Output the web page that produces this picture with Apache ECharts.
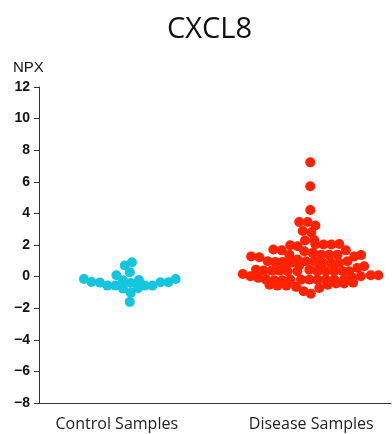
<!DOCTYPE html>
<html>
<head>
<meta charset="utf-8">
<script src="https://cdn.jsdelivr.net/npm/echarts@6/dist/echarts.min.js"></script>
<style>
  html, body { margin: 0; padding: 0; background: #fff; }
  #chart { width: 392px; height: 434px; }
</style>
</head>
<body>
<div id="chart"></div>
<script>
// Groups on the x axis (placed at 1 and 2)
const groups = ["Control Samples", "Disease Samples"];

// Control samples: horizontal swarm offset and NPX value
const controlDx = [-0.169, -0.130, -0.087, -0.048, -0.007, 0.032, 0.072, 0.067, 0.109, 0.144, 0.183,
  0.224, 0.265, 0.303, -0.002, 0.032, 0.072, 0.114, 0.041, 0.078, 0.067];
const controlY = [-0.15, -0.34, -0.38, -0.57, -0.57, -0.76, -1.03, -1.60, -0.74, -0.57, -0.57,
  -0.36, -0.36, -0.15, 0.08, -0.23, -0.40, -0.21, 0.70, 0.91, 0.27];

// Disease samples: horizontal swarm offset and NPX value
const diseaseDx = [
  -0.005, -0.005, -0.005,
  -0.062, -0.019, 0.021, -0.044, 0.000, -0.032, 0.015,
  -0.108, -0.070, 0.021, 0.063, 0.103, 0.144,
  -0.195, -0.152, -0.036, 0.007, 0.178, -0.113,
  -0.309, -0.267, 0.050, 0.092, 0.135, 0.221, 0.256,
  -0.224, -0.185, -0.147, -0.104, -0.070, -0.027, 0.015, 0.058, 0.101, 0.144, 0.186,
  -0.062, 0.041, -0.138, 0.118,
  -0.284, -0.245, -0.204, -0.164, -0.122, -0.072, -0.010, 0.032, 0.075, 0.118, 0.161, 0.195, 0.237, 0.272,
  -0.352, -0.313, -0.272, -0.232, -0.190, -0.150, -0.108, -0.053, -0.010, 0.032, 0.075, 0.118, 0.169,
  0.212, 0.255, 0.306, 0.345,
  -0.215, -0.174, -0.128, -0.078, -0.039, -0.002, 0.041, 0.084, 0.127, 0.169, 0.215
];
const diseaseY = [
  7.23, 5.72, 4.21,
  3.46, 3.46, 3.23, 2.89, 2.80, 2.28, 2.31,
  1.98, 1.92, 2.03, 2.03, 2.03, 2.06,
  1.71, 1.66, 1.60, 1.50, 1.66, 1.39,
  1.28, 1.22, 1.39, 1.39, 1.39, 1.28, 1.36,
  0.97, 0.93, 0.93, 0.87, 1.08, 0.97, 0.97, 0.87, 0.87, 0.87, 0.97,
  0.70, 0.63, 0.63, 0.70,
  0.44, 0.38, 0.38, 0.38, 0.34, 0.34, 0.44, 0.34, 0.34, 0.34, 0.34, 0.34, 0.55, 0.65,
  0.17, 0.02, -0.08, -0.19, -0.23, -0.23, -0.19, -0.19, -0.19, -0.19, -0.19, -0.19, -0.19,
  -0.08, 0.02, 0.08, 0.08,
  -0.51, -0.57, -0.57, -0.65, -0.93, -1.08, -0.72, -0.51, -0.44, -0.44, -0.38
];

const yTicks = { min: -8, max: 12, step: 2 };

const chart = echarts.init(document.getElementById("chart"));

const toPoints = (pos, dx, ys) => dx.map((d, i) => [pos + d, ys[i]]);

const option = {
  animation: false,
  title: [
    {
      text: "CXCL8",
      left: 162,
      top: 10,
      textStyle: { fontFamily: "Open Sans", fontSize: 29, fontWeight: "normal", color: "#111" }
    },
    {
      text: "NPX",
      left: 8,
      top: 55,
      textStyle: { fontFamily: "Liberation Sans", fontSize: 15, fontWeight: "normal", color: "#111" }
    }
  ],
  grid: { left: 39, right: 1, top: 87, bottom: 31 },
  xAxis: {
    type: "value",
    min: 0.6,
    max: 2.41,
    axisLine: { onZero: false, lineStyle: { color: "#333", width: 1 } },
    axisTick: { show: false },
    splitLine: { show: false },
    axisLabel: {
      customValues: [1, 2],
      formatter: (v) => groups[Math.round(v) - 1],
      fontFamily: "Open Sans",
      fontSize: 16,
      color: "#222",
      margin: 13
    }
  },
  yAxis: {
    type: "value",
    min: yTicks.min,
    max: yTicks.max,
    interval: yTicks.step,
    axisLine: { show: true, onZero: false, lineStyle: { color: "#333", width: 1 } },
    axisTick: { show: true, length: 5, lineStyle: { color: "#333" } },
    splitLine: { show: false },
    axisLabel: {
      formatter: (v) => (v < 0 ? "\u2212" + -v : String(v)),
      fontFamily: "Liberation Sans",
      fontWeight: "bold",
      fontSize: 14,
      color: "#111",
      margin: 9
    }
  },
  series: [
    {
      name: groups[0],
      type: "scatter",
      symbolSize: 10,
      itemStyle: { color: "#14c5df", opacity: 1 },
      data: toPoints(1, controlDx, controlY)
    },
    {
      name: groups[1],
      type: "scatter",
      symbolSize: 10,
      itemStyle: { color: "#ff2200", opacity: 1 },
      data: toPoints(2, diseaseDx, diseaseY)
    }
  ]
};

chart.setOption(option);
</script>
</body>
</html>
